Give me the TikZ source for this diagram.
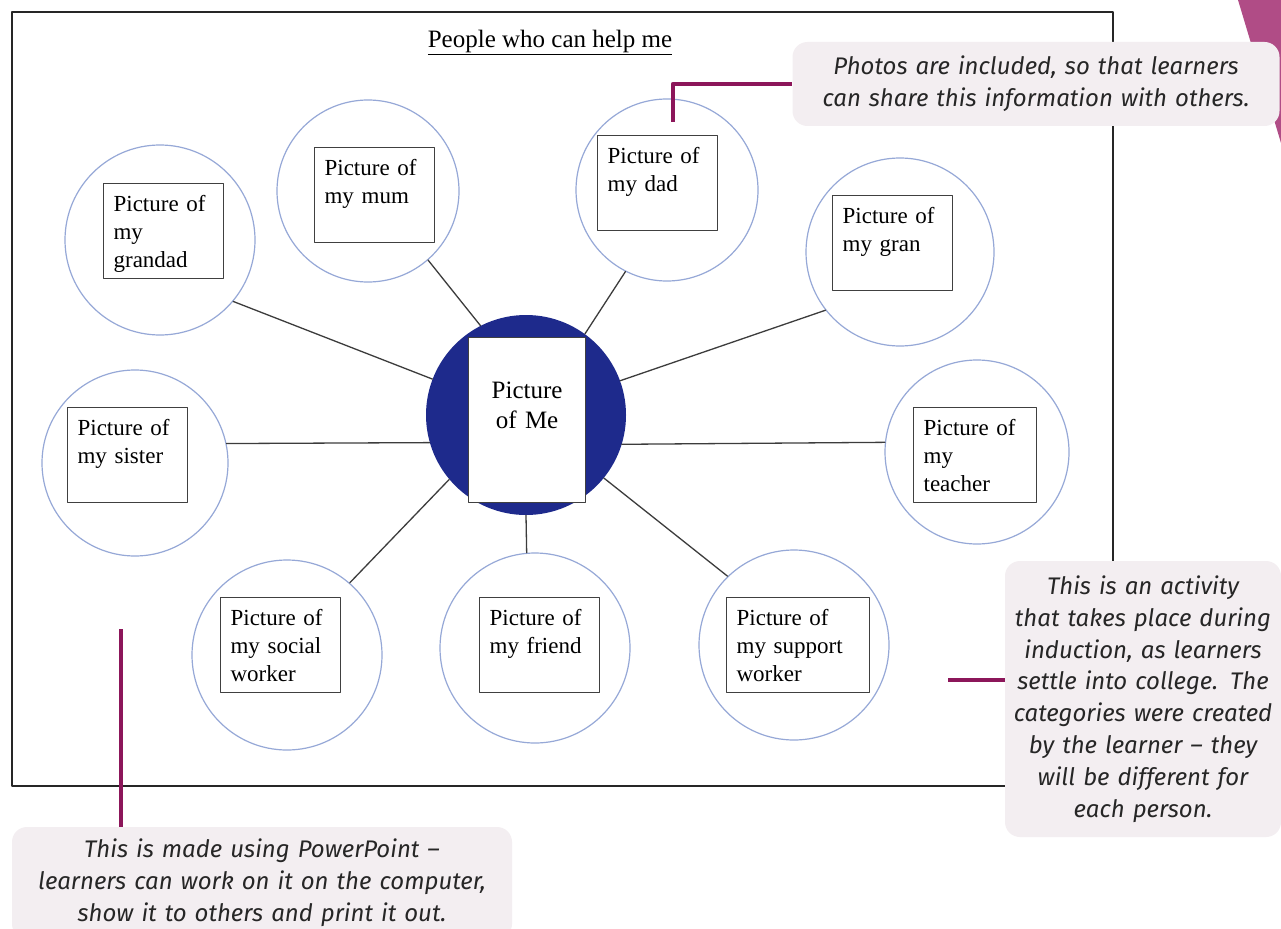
\documentclass[tikz,border=0pt]{standalone}
\usepackage{fontspec}
\setmainfont{Liberation Serif}
\newfontfamily\notefont{Fira Sans}
\definecolor{ringblue}{RGB}{150,168,215}
\definecolor{meblue}{RGB}{30,42,140}
\definecolor{notefill}{RGB}{243,238,241}
\definecolor{plum}{RGB}{140,22,90}
\definecolor{cornerpink}{RGB}{176,76,134}
\definecolor{spoke}{RGB}{60,60,60}
\begin{document}
\begin{tikzpicture}[x=1pt, y=-1pt, line join=round, line cap=round,
		ring/.style={circle, draw=ringblue, line width=1.2pt, inner sep=0pt, minimum size=#1},
		picbox/.style={draw=black!75, line width=1.2pt, fill=white, anchor=north west, align=left, inner xsep=10pt, inner ysep=6pt, text height=22pt, text depth=61pt, text width=#1, font=\fontsize{23}{28}\selectfont},
		picbox/.default=100pt,
		note/.style={fill=notefill, rounded corners=15pt, align=center, inner sep=0pt, text=black!85, font=\notefont\itshape\fontsize{24}{31.8}\selectfont},
		spokeline/.style={draw=spoke, line width=1.3pt},
		callline/.style={draw=plum, line width=4.5pt, line cap=butt}]
	\path[use as bounding box, fill=white] (0,0) rectangle (1281,928);
	\fill[cornerpink] (1238,0) -- (1281,0) -- (1281,143) -- cycle;
	\draw[line width=2.5pt, black!85] (12,12) rectangle (1113,786);
	\node[font=\fontsize{25}{30}\selectfont] (title) at (550,42) {\underline{People who can help me}};
	
	\node[circle, fill=meblue, inner sep=0pt, minimum size=200pt] (me) at (526,415) {};
	\node[ring=190pt] (grandad) at (160,240) {};
	\node[ring=182pt] (mum) at (368,191) {};
	\node[ring=182pt] (dad) at (667,190) {};
	\node[ring=188pt] (gran) at (900,252) {};
	\node[ring=186pt] (sister) at (135,463) {};
	\node[ring=184pt] (teacher) at (977,452) {};
	\node[ring=190pt] (social) at (287,655) {};
	\node[ring=190pt] (friend) at (535,648) {};
	\node[ring=190pt] (support) at (794,645) {};
	
	\draw[spokeline] (me.159) -- (grandad.-40);
	\draw[spokeline] (me.117) -- (mum.-49);
	\draw[spokeline] (me.54) -- (dad.243);
	\draw[spokeline] (me.20) -- (gran.218);
	\draw[spokeline] (me.196) -- (sister.12);
	\draw[spokeline] (me.-17) -- (teacher.174);
	\draw[spokeline] (me.220) -- (social.49);
	\draw[spokeline] (me.270) -- (friend.95);
	\draw[spokeline] (me.-39) -- (support.134);
	
	\node[picbox=97pt, align=center, text height=55pt, text depth=98pt, font=\fontsize{25}{30}\selectfont] (mepic) at (468,337) {Picture\\of Me};
	\node[picbox] (grandadpic) at (103,183) {Picture of\\my\\grandad};
	\node[picbox] (mumpic) at (314,147) {Picture of\\my mum};
	\node[picbox] (dadpic) at (597,135) {Picture of\\my dad};
	\node[picbox] (granpic) at (832,195) {Picture of\\my gran};
	\node[picbox] (sisterpic) at (67,407) {Picture of\\my sister};
	\node[picbox=103pt] (teacherpic) at (913,407) {Picture of\\my\\teacher};
	\node[picbox] (socialpic) at (220,597) {Picture of\\my social\\worker};
	\node[picbox] (friendpic) at (479,597) {Picture of\\my friend};
	\node[picbox=123pt] (supportpic) at (726,597) {Picture of\\my support\\worker};
	
	\path
	(673,122) coordinate (dadtip)
	(948,680) coordinate (cattip)
	(121,629) coordinate (ppttip)
	;
	\node[note, minimum width=487pt, minimum height=84pt, text width=480pt] (photonote) at (1036,84) {Photos are included, so that learners\\can share this information with others.};
	\node[note, minimum width=276pt, minimum height=276pt, text width=276pt] (catnote) at (1143,699) {This is an activity\\that takes place during\\induction, as learners\\settle into college. The\\categories were created\\by the learner – they\\will be different for\\each person.};
	\node[note, minimum width=500pt, minimum height=112pt, text width=500pt] (pptnote) at (262,883) {This is made using PowerPoint –\\learners can work on it on the computer,\\show it to others and print it out.};
	\draw[callline] (dadtip) |- (photonote.west);
	\draw[callline] (cattip) -- (cattip -| catnote.west);
	\draw[callline] (ppttip) -- (ppttip |- pptnote.north);
\end{tikzpicture}
\end{document}
